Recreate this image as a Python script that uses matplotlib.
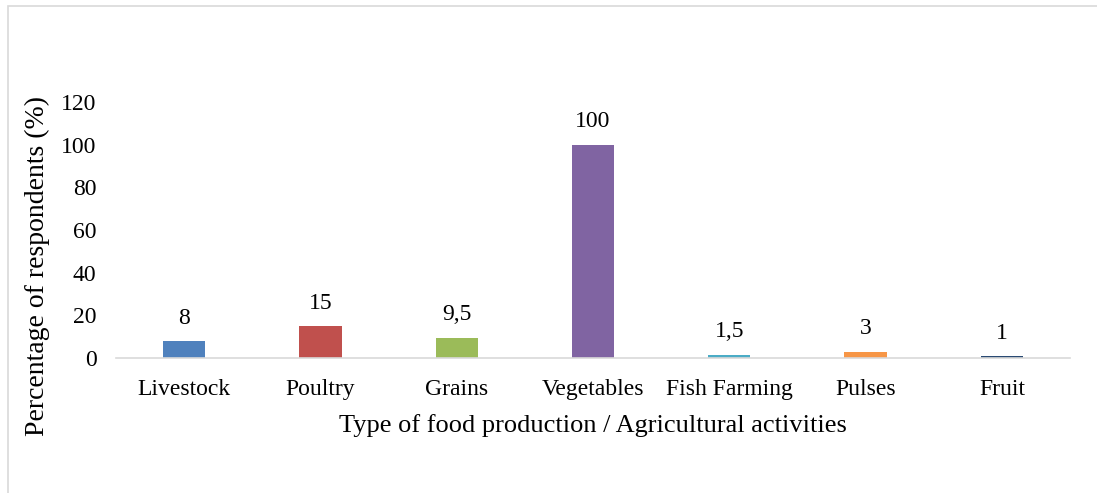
import matplotlib.pyplot as plt
from matplotlib.patches import Rectangle

categories = ["Livestock", "Poultry", "Grains", "Vegetables", "Fish Farming", "Pulses", "Fruit"]
values = [8, 15, 9.5, 100, 1.5, 3, 1]
labels = ["8", "15", "9,5", "100", "1,5", "3", "1"]
colors = ["#4F81BD", "#C0504D", "#9BBB59", "#8064A2", "#4BACC6", "#F79646", "#2A4A73"]

plt.rcParams["font.family"] = ["Liberation Serif", "DejaVu Serif"]

fig = plt.figure(figsize=(10.97, 4.93), dpi=100)
ax = fig.add_axes([0.1057, 0.2738, 0.8697, 0.5193])

# cadre gris autour de la figure
fig.patches.append(Rectangle((8 / 1097, -0.1), 1.2, 1 - 6 / 493 + 0.1, transform=fig.transFigure,
                             fill=False, edgecolor="#D9D9D9", linewidth=1.2))

x = range(len(categories))
ax.bar(x, values, width=0.31, color=colors)

for i, (v, lab) in enumerate(zip(values, labels)):
    ax.annotate(lab, (i, v), xytext=(0, 12.5), textcoords="offset points",
                ha="center", va="baseline", fontsize=17)

ax.set_xlim(-0.5, len(categories) - 0.5)
ax.set_ylim(0, 120)
ax.set_yticks(range(0, 121, 20))
ax.set_xticks(list(x))
ax.set_xticklabels(categories)
ax.tick_params(axis="both", length=0, labelsize=17)
ax.tick_params(axis="x", pad=15)
ax.tick_params(axis="y", pad=14)

for s in ["top", "right", "left"]:
    ax.spines[s].set_visible(False)
ax.spines["bottom"].set_color("#D9D9D9")
ax.spines["bottom"].set_linewidth(1.2)

ax.set_xlabel("Type of food production / Agricultural activities", fontsize=19, labelpad=10)
ax.set_ylabel("Percentage of respondents (%)", fontsize=20)
ax.yaxis.set_label_coords(-0.069, 0.36)

fig.savefig("out.png", dpi=100)
